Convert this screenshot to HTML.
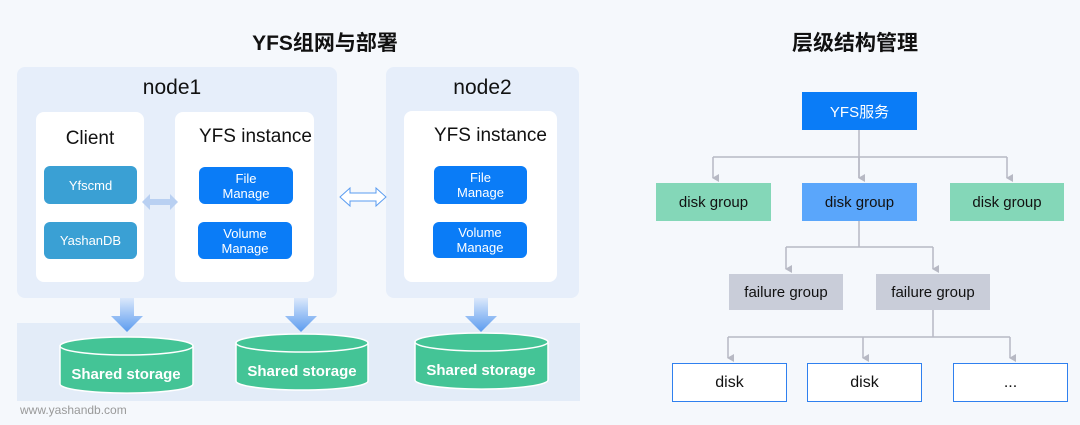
<!DOCTYPE html>
<html><head><meta charset="utf-8"><style>
body{margin:0;width:1080px;height:425px;background:#f5f8fc;font-family:"Liberation Sans","Noto Sans CJK SC",sans-serif;position:relative;overflow:hidden}
div{position:absolute;box-sizing:border-box}
.t{font-weight:bold;font-size:21px;color:#111;text-align:center}
.panel{background:#e6eefa;border-radius:8px}
.white{background:#fff;border-radius:8px}
.lbl{font-size:19px;color:#111;text-align:center;width:100%}
.btn{color:#fff;font-size:13px;text-align:center;border-radius:6px;display:flex;align-items:center;justify-content:center;line-height:15px}
.cb{background:#3aa0d4}
.bb{background:#0a7cf7}
.n{display:flex;align-items:center;justify-content:center;font-size:15px;color:#111}
</style></head><body>
<div class="t" style="left:200px;top:27px;width:250px">YFS组网与部署</div>
<div class="t" style="left:730px;top:27px;width:250px">层级结构管理</div>

<div class="panel" style="left:17px;top:67px;width:320px;height:231px"></div>
<div class="lbl" style="left:17px;top:76px;width:310px;font-size:21px">node1</div>
<div class="white" style="left:36px;top:112px;width:108px;height:170px"></div>
<div class="lbl" style="left:36px;top:128px;width:108px">Client</div>
<div class="white" style="left:175px;top:112px;width:139px;height:170px"></div>
<div class="lbl" style="left:199px;top:126px;width:160px;text-align:left">YFS instance</div>
<div class="btn cb" style="left:44px;top:166px;width:93px;height:38px">Yfscmd</div>
<div class="btn cb" style="left:44px;top:222px;width:93px;height:37px">YashanDB</div>
<div class="btn bb" style="left:199px;top:167px;width:94px;height:37px">File<br>Manage</div>
<div class="btn bb" style="left:198px;top:222px;width:94px;height:37px">Volume<br>Manage</div>

<div class="panel" style="left:386px;top:67px;width:193px;height:231px"></div>
<div class="lbl" style="left:386px;top:76px;width:193px;font-size:21px">node2</div>
<div class="white" style="left:404px;top:111px;width:153px;height:171px"></div>
<div class="lbl" style="left:434px;top:125px;width:130px;text-align:left">YFS instance</div>
<div class="btn bb" style="left:434px;top:166px;width:93px;height:38px">File<br>Manage</div>
<div class="btn bb" style="left:433px;top:222px;width:94px;height:36px">Volume<br>Manage</div>

<div style="left:17px;top:323px;width:563px;height:78px;background:#e3ecf8"></div>
<div style="left:20px;top:403px;font-size:12px;color:#999">www.yashandb.com</div>

<svg width="1080" height="425" style="position:absolute;left:0;top:0">
<defs>
<linearGradient id="g" x1="0" y1="0" x2="0" y2="1"><stop offset="0" stop-color="#dbe8fb"/><stop offset="1" stop-color="#5b9bef"/></linearGradient>
<marker id="a" markerWidth="8" markerHeight="8" refX="4" refY="6" orient="auto" markerUnits="userSpaceOnUse"><path d="M0,0 L8,0 L4,7z" fill="#b7b9c4"/></marker>
</defs>
<g fill="url(#g)">
<path d="M120,298h14v18h9l-16,16l-16,-16h9z"/>
<path d="M294,298h14v18h9l-16,16l-16,-16h9z"/>
<path d="M474,298h14v18h9l-16,16l-16,-16h9z"/>
</g>
<path d="M142,202l8,-8v5h20v-5l8,8l-8,8v-5h-20v5z" fill="#b9d0f2"/>
<path d="M340,197l10,-9v5h26v-5l10,9l-10,9v-5h-26v5z" fill="#fff" stroke="#5a9cf0" stroke-width="1"/>
<g fill="#44c496" stroke="#fff" stroke-width="1.5">
<path d="M60,346v38a66,9 0 0 0 133,0v-38z"/><ellipse cx="126.5" cy="346" rx="66.5" ry="9"/>
<path d="M236,343v38a66,9 0 0 0 132,0v-38z"/><ellipse cx="302" cy="343" rx="66" ry="9"/>
<path d="M415,342v38a66,9 0 0 0 133,0v-38z"/><ellipse cx="481.5" cy="342" rx="66.5" ry="9"/>
</g>
<g fill="#fff" font-weight="bold" font-size="15" text-anchor="middle" font-family="Liberation Sans,sans-serif">
<text x="126" y="379">Shared storage</text><text x="302" y="376">Shared storage</text><text x="481" y="375">Shared storage</text>
</g>
<g stroke="#b7b9c4" stroke-width="1.5" fill="none">
<path d="M859,130v48"/><path d="M713,157h294"/>
<path d="M713,157v21" marker-end="url(#a)"/><path d="M859,157v21" marker-end="url(#a)"/><path d="M1007,157v21" marker-end="url(#a)"/>
<path d="M859,221v26"/><path d="M786,247h147"/><path d="M786,247v22" marker-end="url(#a)"/><path d="M933,247v22" marker-end="url(#a)"/>
<path d="M933,310v27"/><path d="M728,337h282"/><path d="M728,337v21" marker-end="url(#a)"/><path d="M863,337v21" marker-end="url(#a)"/><path d="M1010,337v21" marker-end="url(#a)"/>
</g>
</svg>
<div class="n" style="left:802px;top:92px;width:115px;height:38px;background:#0a7cf7;color:#fff">YFS服务</div>
<div class="n" style="left:656px;top:183px;width:115px;height:38px;background:#84d7b8">disk group</div>
<div class="n" style="left:802px;top:183px;width:115px;height:38px;background:#5aa6fb">disk group</div>
<div class="n" style="left:950px;top:183px;width:114px;height:38px;background:#84d7b8">disk group</div>
<div class="n" style="left:729px;top:274px;width:114px;height:36px;background:#c9cdd9">failure group</div>
<div class="n" style="left:876px;top:274px;width:114px;height:36px;background:#c9cdd9">failure group</div>
<div class="n" style="left:672px;top:363px;width:115px;height:39px;background:#fff;border:1.5px solid #2f80ef;font-size:16px">disk</div>
<div class="n" style="left:807px;top:363px;width:115px;height:39px;background:#fff;border:1.5px solid #2f80ef;font-size:16px">disk</div>
<div class="n" style="left:953px;top:363px;width:115px;height:39px;background:#fff;border:1.5px solid #2f80ef;font-size:16px">...</div>
</body></html>
